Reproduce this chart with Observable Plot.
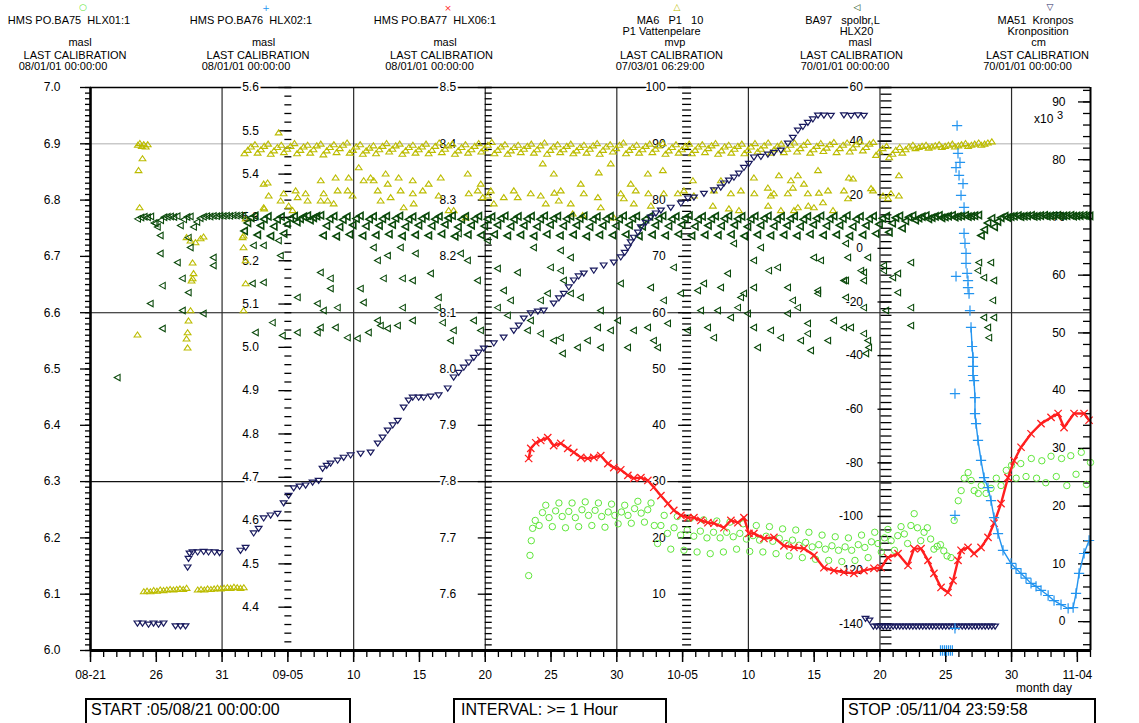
<!DOCTYPE html>
<html><head><meta charset="utf-8">
<script src="https://cdn.jsdelivr.net/npm/d3@7"></script>
<script src="https://cdn.jsdelivr.net/npm/@observablehq/plot@0.6"></script>
<style>
html,body{margin:0;padding:0;background:#fff;}
#wrap{position:relative;width:1139px;height:723px;overflow:hidden;font-family:"Liberation Sans",Arial,Helvetica,sans-serif;color:#000;}
#wrap > svg{position:absolute;left:0;top:0;}
.t{position:absolute;font-size:11px;line-height:12px;white-space:pre;text-align:center;width:200px;}
.m{position:absolute;font-family:"DejaVu Sans",sans-serif;font-size:9px;line-height:10px;width:20px;text-align:center;}
.a{position:absolute;font-size:12px;line-height:12px;white-space:pre;}
.box{position:absolute;top:698px;height:34px;border:2px solid #000;box-sizing:border-box;font-size:16px;line-height:18px;padding:1px 0 0 4px;white-space:pre;background:#fff;}
</style></head>
<body><div id="wrap"></div>
<script>
// ---------------- DATA (times = days since 2005-08-21 00:00) ----------------
const startISO = "2005-08-21T00:00:00Z";
const spanDays = 76;

// axis ranges (native units)
const rangeBA75 = [6.0, 7.0];
const rangeBA76 = [4.3, 5.6];
const rangeBA77 = [7.5, 8.5];
const rangeMA6  = [0, 100];
const rangeBA97 = [-150, 60];
const rangeMA51 = [-5, 92.5];

// tick label values
const ticksBA75 = [6.0,6.1,6.2,6.3,6.4,6.5,6.6,6.7,6.8,6.9,7.0];
const ticksBA76 = [4.4,4.5,4.6,4.7,4.8,4.9,5.0,5.1,5.2,5.3,5.4,5.5,5.6];
const ticksBA77 = [7.6,7.7,7.8,7.9,8.0,8.1,8.2,8.3,8.4,8.5];
const ticksMA6  = [10,20,30,40,50,60,70,80,90,100];
const ticksBA97 = [-140,-120,-100,-80,-60,-40,-20,0,20,40,60];
const ticksMA51 = [0,10,20,30,40,50,60,70,80,90];

const xTickDays = [0,5,10,15,20,25,30,35,40,45,50,55,60,65,70,75];
const xTickLabels = ["08-21","26","31","09-05","10","15","20","25","30","10-05","10","15","20","25","30","11-04"];
const gridDays = [10,20,30,40,50,60,70];
const gridLevels = [6.3, 6.6];
const refLevel = [6.9];

// legend texts
const legendText = [
  ["HMS PO.BA75  HLX01:1", "", "masl", "LAST CALIBRATION", "08/01/01 00:00:00"],
  ["HMS PO.BA76  HLX02:1", "", "masl", "LAST CALIBRATION", "08/01/01 00:00:00"],
  ["HMS PO.BA77  HLX06:1", "", "masl", "LAST CALIBRATION", "08/01/01 00:00:00"],
  ["MA6   P1   10", "P1 Vattenpelare", "mvp", "LAST CALIBRATION", "07/03/01 06:29:00"],
  ["BA97   spolbr,L", "HLX20", "masl", "LAST CALIBRATION", "70/01/01 00:00:00"],
  ["MA51  Kronpos", "Kronposition", "cm", "LAST CALIBRATION", "70/01/01 00:00:00"]
];
const legendSymbols = ["\u25CB", "+", "\u00D7", "\u25B3", "\u25C1", "\u25BD"];
const footerText = ["START :05/08/21 00:00:00", "INTERVAL: >= 1 Hour", "STOP :05/11/04 23:59:58"];

// BA75 (masl) [day, value]
const ba75 = [[33.3,6.133],[33.4,6.169],[33.5,6.195],[33.6,6.217],[33.8,6.231],[34.1,6.222],[34.6,6.258],[35.1,6.220],[35.6,6.262],[36.1,6.218],[36.6,6.262],[37.1,6.220],[37.6,6.264],[38.1,6.222],[38.6,6.262],[39.1,6.219],[39.6,6.260],[40.1,6.225],[40.6,6.258],[41.1,6.226],[41.6,6.265],[42.1,6.228],[42.6,6.262],[43.1,6.190],[43.6,6.240],[44.1,6.180],[44.6,6.238],[45.1,6.178],[45.6,6.235],[46.1,6.175],[46.6,6.232],[47.1,6.172],[47.6,6.230],[48.1,6.175],[48.6,6.228],[49.1,6.180],[49.6,6.225],[50.1,6.176],[50.6,6.222],[51.1,6.175],[51.6,6.220],[52.1,6.172],[52.6,6.216],[53.1,6.168],[53.6,6.214],[54.1,6.165],[54.6,6.210],[55.1,6.162],[55.6,6.205],[56.1,6.160],[56.6,6.202],[57.1,6.158],[57.6,6.200],[58.1,6.160],[58.6,6.205],[59.1,6.165],[59.6,6.210],[60.1,6.175],[60.6,6.215],[61.1,6.178],[61.6,6.220],[62.1,6.190],[62.6,6.243],[63.1,6.195],[63.6,6.218],[64.1,6.180],[64.6,6.188],[65.1,6.168],[65.4,6.165],[65.64,6.231],[65.95,6.266],[66.17,6.284],[66.4,6.306],[66.7,6.316],[66.93,6.302],[67.16,6.284],[67.47,6.279],[67.7,6.293],[68.06,6.279],[68.44,6.288],[68.84,6.306],[69.2,6.293],[69.6,6.320],[70.0,6.329],[70.35,6.306],[70.7,6.332],[71.1,6.309],[71.5,6.341],[71.9,6.306],[72.3,6.337],[72.6,6.298],[73.0,6.345],[73.4,6.309],[73.8,6.341],[74.2,6.293],[74.5,6.346],[74.9,6.313],[75.3,6.352],[75.7,6.295],[76.0,6.334]];
// BA75 circles read on the rising/falling flanks of the daily cycles
const ba75Flank = [[34.35,6.245],[34.85,6.236],[35.35,6.248],[35.85,6.238],[36.35,6.247],[36.85,6.236],[37.35,6.250],[37.85,6.240],[38.35,6.249],[38.85,6.238],[39.35,6.246],[39.85,6.240],[40.35,6.246],[40.85,6.240],[41.35,6.252],[41.85,6.244],[42.35,6.250],[42.85,6.222],[43.35,6.222],[43.85,6.208],[44.35,6.218],[44.85,6.205],[45.35,6.214],[45.85,6.203],[46.35,6.212],[46.85,6.200],[47.35,6.210],[47.85,6.200],[48.35,6.210],[48.85,6.202],[49.35,6.208],[49.85,6.198],[50.35,6.204],[50.85,6.196],[51.35,6.203],[51.85,6.194],[52.35,6.199],[52.85,6.190],[53.35,6.196],[53.85,6.187],[54.35,6.192],[54.85,6.184],[55.35,6.188],[55.85,6.180],[56.35,6.186],[56.85,6.178],[57.35,6.184],[57.85,6.178],[58.35,6.188],[58.85,6.183],[59.35,6.193],[59.85,6.190],[60.35,6.200],[60.85,6.195],[61.35,6.204],[61.85,6.207],[62.35,6.222],[62.85,6.218],[63.35,6.210],[63.85,6.198],[64.35,6.185],[64.85,6.177]];

// BA76 (masl)
const ba76 = [[64.6,4.30],[64.75,4.30],[64.9,4.30],[65.05,4.30],[65.2,4.30],[65.35,4.30],[65.5,4.30],[65.7,4.893],[65.7,4.612],[65.7,4.351],[65.86,5.512],[65.93,5.448],[66.08,5.427],[65.78,5.415],[66.01,5.397],[66.31,5.378],[66.16,5.351],[66.39,5.323],[66.39,5.263],[66.46,5.240],[66.54,5.217],[66.54,5.194],[65.78,5.164],[66.62,5.171],[66.69,5.154],[66.69,5.138],[66.77,5.124],[66.84,5.085],[66.92,5.046],[67.0,5.002],[67.07,4.977],[67.07,4.956],[67.07,4.935],[67.15,4.923],[67.22,4.884],[67.22,4.847],[67.3,4.824],[67.45,4.785],[67.68,4.739],[67.91,4.699],[68.21,4.676],[68.44,4.646],[68.67,4.607],[68.97,4.570],[69.35,4.531],[69.96,4.501],[70.34,4.489],[70.72,4.478],[71.1,4.467],[71.48,4.455],[71.86,4.448],[72.24,4.439],[72.78,4.427],[73.23,4.415],[73.76,4.406],[74.3,4.397],[74.68,4.399],[74.9,4.432],[75.13,4.478],[75.51,4.524],[75.89,4.554]];

// BA77 (masl)
const ba77 = [[33.3,7.841],[33.46,7.859],[33.84,7.869],[34.22,7.873],[34.75,7.878],[35.2,7.864],[35.74,7.868],[36.27,7.859],[36.73,7.852],[37.26,7.843],[37.79,7.841],[38.25,7.843],[38.78,7.846],[39.32,7.832],[39.77,7.825],[40.3,7.821],[40.84,7.811],[41.29,7.806],[41.83,7.807],[42.36,7.802],[42.81,7.790],[43.35,7.775],[43.88,7.761],[44.33,7.749],[44.87,7.740],[45.4,7.736],[45.86,7.736],[46.39,7.731],[46.92,7.727],[47.38,7.726],[48.14,7.718],[48.67,7.731],[49.2,7.727],[49.66,7.736],[50.04,7.708],[50.42,7.708],[51.18,7.699],[51.94,7.701],[52.7,7.686],[53.46,7.683],[54.22,7.681],[54.98,7.669],[55.74,7.647],[56.5,7.642],[57.26,7.639],[58.02,7.637],[58.78,7.642],[59.54,7.646],[60.08,7.647],[60.6,7.665],[61.37,7.672],[62.13,7.651],[62.59,7.681],[63.12,7.681],[63.65,7.660],[64.1,7.637],[64.64,7.612],[65.17,7.603],[65.55,7.624],[65.93,7.660],[66.16,7.678],[66.69,7.683],[67.15,7.672],[67.68,7.683],[68.21,7.701],[68.67,7.726],[69.2,7.761],[69.73,7.807],[70.19,7.837],[70.72,7.861],[71.48,7.885],[72.24,7.903],[73.0,7.914],[73.54,7.921],[73.99,7.896],[74.75,7.921],[75.51,7.921],[75.89,7.909]];

// MA6 (mvp): left cluster, low band and scatter [day, value]
const ma6Points = [[3.6,89.8],[3.75,90.1],[3.9,89.6],[4.05,89.9],[4.2,89.5],[4.35,89.9],
 [4.05,10.5],[4.3,10.6],[4.55,10.5],[4.8,10.7],[5.05,10.6],[5.3,10.8],[5.55,10.7],[5.8,10.8],[6.05,10.9],[6.3,10.8],[6.55,10.9],[6.8,11.0],[7.05,10.9],[7.3,11.1],
 [8.15,10.8],[8.4,10.9],[8.65,10.8],[8.9,11.0],[9.15,10.9],[9.4,11.0],[9.65,11.1],[9.9,11.0],[10.15,11.1],[10.4,11.2],[10.65,11.1],[10.9,11.3],[11.15,11.2],[11.4,11.1],[11.65,11.2],
 [3.95,87.4],[3.65,85.3],[3.73,78.7],[3.57,56.1],[7.6,72.8],[7.98,72.5],[8.37,73.2],[8.59,73.5],[7.3,73.4],[7.76,68.9],[7.83,67.0],[7.76,66.1],[7.68,65.7],[7.6,60.4],[7.45,58.6],[7.38,56.5],[7.3,55.4],[7.38,53.8],
 [11.56,73.4],[11.63,71.6],[11.79,69.3],[11.79,65.2],[11.63,60.4],[11.79,76.7],[11.63,73.7],
 [14.3,92.0],[13.16,82.9],[13.54,80.8],[13.16,78.7],[13.46,83.1],[13.2,78.5],[14.45,79.9],[14.68,81.2],[15.06,79.0],[15.36,78.2],[15.59,81.7],[15.74,80.5],[16.35,81.2],[16.5,79.9],[17.49,79.9],[17.5,83.5],[17.72,81.2],[18.02,79.9],[18.63,84.0],[18.78,81.7],[18.48,79.4],[19.54,81.7],[19.92,80.8],[19.62,84.0],[20.38,85.8],[20.76,83.5],[21.29,84.0],[21.52,83.5],[21.83,81.7],[22.05,79.9],[22.43,84.7],[22.59,82.9],[22.81,80.5],[23.42,84.0],[23.57,81.7],[23.8,78.7],[24.49,83.5],[24.5,81.2],[24.56,79.4],[25.25,81.7],[25.7,82.9],[26.62,84.0],[26.46,80.8],[27.22,78.2],[27.6,78.2],[28.52,76.9],[28.67,84.7],[28.75,81.2],[29.43,81.7],[29.66,82.9],[29.81,80.5],[30.19,80.8],[30.42,81.7],[30.65,79.4],[31.41,80.5],[32.17,81.7],[32.47,80.5],
 [34.37,86.5],[35.21,84.7],[33.46,81.2],[34.22,80.8],[34.6,79.4],[35.25,81.3],[35.74,81.7],[35.59,79.9],[36.5,79.4],[36.65,77.6],[37.41,77.3],[37.26,82.9],[37.49,81.2],[38.63,84.9],[38.56,80.5],[38.78,78.7],[39.54,86.5],[39.77,76.9],[40.3,81.2],[40.53,80.3],[41.06,82.9],[41.44,81.7],[41.29,79.4],[42.36,84.7],[42.4,81.2],[42.59,79.0],[43.5,85.3],[43.57,81.2],[44.64,81.2],[45.1,81.7],[45.78,83.5],[45.86,80.8],[47.3,79.0],[47.38,81.7],[47.91,83.5],[48.67,81.2],[48.52,78.5],[49.28,78.2],[49.43,81.7],[50.42,84.0],[50.45,81.2],[51.48,82.2],[51.5,79.0],[51.94,81.2],[53.0,81.2],[53.23,83.5],[53.46,78.2],[54.52,81.2],[54.98,78.7],[54.22,82.9],[51.71,80.8],[52.32,84.4],[53.38,82.2],[53.76,84.4],[54.55,79.0],[55.29,85.3],[55.36,81.3],[55.67,79.6],[56.05,81.7],[56.43,78.2],[57.26,81.7],[57.57,80.3],[57.95,83.8],[57.64,84.0],[59.47,81.7],[60.23,80.8],[60.61,80.3],[60.84,81.2],[61.44,84.4],[61.44,80.8],[59.32,82.1],[53.76,78.7],[52.47,78.2]];

// daily sample offsets of the dense pumping cycles (fraction of day after row day)
const cyclePhase = [0.7, 0.95, 1.2, 1.5];
// MA6 upper band: [day, v@phase0..3]
const ma6Band = [[11,88.3,88.9,89.5,89.9],[12,88.4,89.0,89.6,90.0],[13,88.2,88.8,89.4,89.8],[14,88.5,89.1,89.6,90.1],[15,88.3,88.9,89.5,89.8],[16,88.4,89.0,89.7,90.0],[17,88.1,88.8,89.4,89.9],[18,88.5,89.2,89.8,90.2],[19,88.4,88.9,89.5,89.9],[20,88.2,88.8,89.3,89.7],[21,88.3,89.0,89.6,90.1],[22,88.6,89.1,89.7,90.0],[23,88.2,88.8,89.4,89.8],[24,88.4,89.0,89.5,90.0],[25,88.3,88.9,89.6,90.2],[26,88.5,89.1,89.7,90.0],[27,88.2,88.8,89.4,89.9],[28,88.4,89.0,89.6,90.1],[29,88.6,89.2,89.8,90.3],[30,88.3,88.9,89.5,89.9],[31,88.2,88.8,89.4,89.8],[32,88.5,89.1,89.6,90.0],[33,88.4,89.0,89.7,90.2],[34,88.2,88.9,89.5,89.9],[35,88.5,89.0,89.6,90.0],[36,88.3,88.8,89.4,89.8],[37,88.4,89.1,89.7,90.1],[38,88.2,88.9,89.5,89.9],[39,88.6,89.2,89.8,90.2],[40,88.3,88.9,89.4,89.8],[41,88.4,89.0,89.6,90.0],[42,88.5,89.1,89.7,90.1],[43,88.2,88.8,89.4,89.9],[44,88.4,89.0,89.6,90.0],[45,88.3,88.9,89.5,89.9],[46,88.5,89.2,89.7,90.1],[47,88.2,88.8,89.5,89.8],[48,88.4,89.1,89.6,90.0],[49,88.3,88.9,89.5,90.1],[50,88.6,89.1,89.7,90.2],[51,88.4,89.0,89.6,90.0],[52,88.5,89.1,89.8,90.2],[53,88.6,89.2,89.8,90.3],[54,88.4,89.0,89.6,90.1],[55,88.7,89.3,89.9,90.3],[56,88.5,89.2,89.8,90.2],[57,88.6,89.3,89.9,90.4],[58,88.8,89.4,90.0,90.3],[59,88.0,88.6,89.2,89.6],[60,87.6,88.2,88.9,89.4],[61,88.4,89.0,89.5,89.8],[62,89.2,89.4,89.6,89.8],[63,89.3,89.5,89.7,89.9],[64,89.4,89.6,89.8,90.0],[65,89.5,89.7,89.9,90.1],[66,89.6,89.8,90.0,90.2],[67,89.8,90.0,90.2,90.4]];

// BA97 (masl): flat start and scatter [day, value]
const ba97Points = [[3.6,11.0],[3.85,11.5],[4.1,11.8],[4.35,11.6],[4.6,11.9],[4.85,9.5],[5.1,8.0],[5.35,10.5],[5.6,11.6],[5.85,11.8],[6.1,11.9],[6.35,11.7],[6.6,12.0],[6.85,8.5],[7.1,10.8],[7.35,11.7],[7.6,11.9],[7.85,8.0],[8.1,9.8],[8.35,11.2],[8.6,11.8],[8.85,12.0],[9.1,11.9],[9.35,12.1],[9.6,12.0],[9.85,12.2],[10.1,12.1],[10.35,12.2],[10.6,12.1],[10.85,12.3],[11.1,12.2],[11.35,12.3],[11.6,12.2],
 [2.05,-48.2],[4.94,9.3],[5.32,4.8],[5.32,-1.9],[6.62,-5.3],[5.48,-13.9],[4.56,-20.6],[5.48,-29.9],[7.0,-11.2],[7.0,-23.2],[7.45,-16.5],[8.59,-24.3],[9.35,-3.4],[9.35,-6.4],[7.6,0.3],[7.45,4.0],
 [12.4,1.1],[13.16,1.1],[12.32,-13.1],[13.16,-12.7],[14.3,2.9],[14.45,-2.7],[15.74,-18.3],[17.26,-20.6],[17.49,-9.0],[18.25,-11.2],[18.25,-15.0],[17.72,-23.2],[18.63,-29.5],[19.54,-33.3],[18.78,-22.1],[17.49,-29.5],[17.26,-31.4],[13.84,-27.7],[14.6,-32.5],[15.74,-31.4],[12.55,-31.4],
 [20.53,-15.0],[20.76,-20.2],[21.14,-31.4],[20.3,-33.6],[21.52,0.3],[21.83,-4.5],[22.28,-11.2],[22.59,-2.7],[23.57,0.3],[23.73,-11.2],[23.73,-22.1],[21.83,-26.9],[22.05,-28.8],[22.59,-29.9],[23.35,-28.8],[24.49,-26.9],[24.49,-12.0],[24.71,-1.9],[25.86,-9.4],[26.46,-18.3],[26.39,-22.1],[26.77,-27.7],[27.38,-34.4],[27.6,-30.6],[27.98,5.5],[28.14,-1.9],[28.67,-4.5],[29.43,-12.0],[29.13,-26.9],[29.66,-30.6],
 [30.19,2.9],[30.95,-7.5],[31.41,-15.7],[30.95,-22.1],[31.71,-25.0],[31.94,-19.4],[32.47,-9.0],[33.69,0.3],[34.98,-7.1],[35.74,-0.8],[35.74,-8.3],[36.5,-3.4],[35.97,-12.0],[36.5,-16.8],[37.26,-18.3],[34.75,-16.8],[34.22,-19.4],[33.46,-26.9],[33.23,-30.6],[34.22,-31.8],[35.21,-34.4],[35.74,-33.3],[35.89,-39.2],[37.03,-37.0],[37.79,-34.4],[38.56,-29.5],[38.78,-23.2],[39.54,-30.6],[38.78,-37.0],
 [40.08,-26.9],[40.3,-13.1],[40.84,-37.0],[41.29,-30.6],[42.59,-14.6],[42.36,-29.5],[42.81,-34.4],[43.12,-37.0],[43.57,-19.4],[43.88,-28.0],[44.33,-7.1],[44.87,-16.8],[45.4,-30.6],[46.16,-15.7],[46.39,-23.2],[46.92,-29.5],[47.38,-33.3],[47.68,-23.2],[48.44,-9.4],[48.9,1.8],[49.43,-18.3],[49.96,-24.3],[50.42,-14.6],[50.42,-29.5],[50.95,0.3],[51.56,-8.3],[51.71,-30.6],[52.47,-33.3],[53.0,-14.6],[53.76,-22.1],[53.99,-34.4],[54.52,-28.0],[54.75,-38.1],[54.98,-3.4],[55.29,-16.8],
 [46.62,-13.1],[47.91,-14.6],[49.2,-22.1],[49.66,-16.8],[48.67,-25.8],[50.42,-4.5],[50.72,-37.0],[52.24,-7.1],[53.0,-24.3],[53.38,-19.4],[54.52,-31.8],[55.29,-15.7],[55.51,-4.5],[56.5,-26.9],[57.26,-12.0],[57.57,-3.4],[57.79,-29.5],[58.56,-8.3],[58.78,-12.0],[59.09,-34.4],[59.16,-37.0],[58.94,-39.2],[57.41,1.8],[59.09,-3.4],[58.78,-9.0],[57.41,-12.0],[57.41,-18.3],[58.78,-22.1],[57.26,-29.5],[58.78,-31.8],[56.05,-34.4],
 [60.3,-8.3],[60.3,-6.4],[61.37,-9.4],[62.36,-5.3],[61.37,-16.5],[62.36,-22.1],[62.36,-28.8],[60.46,-23.2],[60.99,-10.9],
 [67.53,-5.3],[67.45,-8.3],[67.91,-10.9],[68.44,-5.3],[68.67,-12.0],[68.59,-19.4],[67.91,-25.8],[68.21,-29.5],[68.29,-33.3],[68.67,-25.8]];

// BA97 daily cycle band: [day, v@phase0..3]
const ba97Band = [[11,6.5,9.5,11.4,12.1],[12,5.0,8.5,10.9,11.9],[13,4.6,8.2,10.8,11.8],[14,5.5,9.0,11.2,12.0],[15,9.8,11.0,11.8,12.2],[16,10.5,11.4,12.0,12.3],[17,4.8,8.4,11.0,12.0],[18,4.5,8.0,10.7,11.8],[19,5.2,8.7,11.1,12.1],[20,4.7,8.3,10.9,11.9],[21,4.9,8.5,11.0,12.0],[22,5.3,8.8,11.2,12.1],[23,4.6,8.1,10.8,11.8],[24,5.0,8.6,11.1,12.0],[25,4.8,8.4,10.9,11.9],[26,5.4,8.9,11.3,12.2],[27,4.5,8.0,10.8,11.9],[28,5.1,8.6,11.0,12.0],[29,4.9,8.3,10.9,11.8],[30,5.2,8.7,11.2,12.1],[31,4.7,8.2,10.8,11.9],[32,5.0,8.5,11.0,12.0],[33,4.6,8.1,10.9,12.1],[34,5.3,8.8,11.2,12.0],[35,4.8,8.4,11.0,11.9],[36,5.1,8.6,11.1,12.1],[37,4.5,8.0,10.8,11.8],[38,5.0,8.5,11.0,12.0],[39,4.9,8.4,10.9,12.1],[40,5.2,8.7,11.2,12.0],[41,4.6,8.2,10.9,11.9],[42,5.1,8.6,11.1,12.1],[43,4.8,8.3,10.9,11.9],[44,5.3,8.8,11.2,12.2],[45,4.7,8.2,10.8,11.9],[46,5.0,8.5,11.0,12.0],[47,4.9,8.4,11.1,12.1],[48,5.2,8.7,11.0,11.9],[49,4.6,8.1,10.9,12.0],[50,5.1,8.6,11.2,12.1],[51,4.8,8.3,10.9,11.9],[52,5.0,8.5,11.1,12.0],[53,4.7,8.2,10.8,11.9],[54,5.3,8.8,11.2,12.1],[55,4.9,8.4,11.0,12.0],[56,5.1,8.6,11.1,12.2],[57,4.6,8.1,10.9,11.9],[58,5.0,8.5,11.0,12.0],[59,5.5,9.0,11.2,12.0],[60,6.0,9.4,11.4,12.1],[61,7.5,10.2,11.6,12.2],[62,10.5,11.3,11.8,12.2],[63,11.0,11.5,11.9,12.3],[64,11.4,11.7,12.0,12.3],[65,11.6,11.9,12.1,12.3],[66,11.8,12.0,12.2,12.4],[67,4.8,7.0,9.5,11.2],[68,8.0,10.0,11.4,12.0],[69,11.5,11.8,12.0,12.2],[70,11.8,12.0,12.1,12.3],[71,11.9,12.0,12.2,12.3],[72,12.0,12.1,12.2,12.3],[73,12.0,12.1,12.2,12.3],[74,12.0,12.1,12.2,12.3],[75,12.1,12.1,12.2,12.3]];

// MA51 (x10^3 cm)
const ma51 = [[3.57,-0.3],[3.95,-0.3],[4.41,-0.5],[4.79,-0.3],[5.17,-0.5],[5.55,-0.3],[6.46,-0.8],[6.84,-0.8],[7.22,-0.8],
 [7.38,9.4],[7.45,10.9],[7.53,11.8],[7.76,12.0],[8.14,12.0],[8.6,12.1],[8.97,12.0],[9.43,12.0],[9.81,11.9],
 [11.4,12.3],[11.79,12.8],[12.4,15.3],[12.78,16.1],[13.16,17.9],[13.69,18.4],[14.22,18.7],[14.68,20.5],[15.06,21.8],[15.44,23.1],[15.89,23.4],[16.35,23.6],[16.88,24.1],[17.34,24.4],[17.64,26.5],[17.95,27.0],[18.25,27.4],[18.78,27.9],[19.24,28.4],[19.77,28.8],[20.53,29.1],[21.29,29.3],[21.83,30.85],[22.2,31.9],[22.59,33.1],[22.97,34.0],[23.35,34.8],[23.8,37.1],[24.18,38.3],[24.49,38.8],[24.94,38.8],[25.32,38.8],[25.86,39.0],[26.46,39.2],[27.15,40.4],[27.6,42.3],[27.98,43.1],[28.37,44.0],[28.75,44.9],[29.13,45.7],[29.5,46.6],[29.89,47.3],[30.65,48.2],[31.4,49.2],[32.17,50.4],[32.55,51.3],[32.93,52.5],[33.46,53.4],[34.0,53.7],[34.45,53.9],[35.2,55.1],[35.6,56.0],[35.97,56.8],[36.35,57.9],[36.73,59.1],[37.1,59.8],[37.49,60.3],[38.25,60.8],[39.0,61.7],[39.77,62.2],[40.3,63.1],[40.6,63.9],[40.84,64.8],[41.06,65.7],[41.29,66.5],[41.6,67.4],[41.83,68.3],[42.2,69.1],[42.59,70.0],[42.97,70.7],[43.35,71.2],[44.1,71.7],[44.87,72.4],[45.4,73.3],[45.86,73.45],[46.62,74.1],[47.38,74.7],[47.9,75.2],[48.14,75.9],[48.52,76.4],[48.9,76.9],[49.28,77.6],[49.66,78.6],[50.04,79.3],[50.42,80.4],[50.95,80.5],[51.48,80.9],[51.94,81.2],[52.47,81.6],[53.0,82.8],[53.38,83.8],[53.76,85.05],[54.14,85.7],[54.52,86.4],[54.9,87.0],[55.29,87.65],[55.74,87.65],[56.27,87.6],[57.26,87.7],[57.8,87.6],[58.33,87.7],[58.78,87.6],
 [58.9,0.5],[59.2,0.2],[59.5,-0.84],[59.75,-0.84],[60.0,-0.84],[60.25,-0.84],[60.5,-0.84],[60.75,-0.84],[61.0,-0.84],[61.25,-0.84],[61.5,-0.84],[61.75,-0.84],[62.0,-0.84],[62.25,-0.84],[62.5,-0.84],[62.75,-0.84],[63.0,-0.84],[63.25,-0.84],[63.5,-0.84],[63.75,-0.84],[64.0,-0.84],[64.25,-0.84],[64.5,-0.84],[64.75,-0.84],[65.0,-0.84],[65.25,-0.84],[65.5,-0.84],[65.75,-0.84],[66.0,-0.84],[66.25,-0.84],[66.5,-0.84],[66.75,-0.84],[67.0,-0.84],[67.25,-0.84],[67.5,-0.84],[67.75,-0.84],[68.0,-0.84],[68.25,-0.84],[68.5,-0.84],[68.75,-0.84]];

// ---------------- helpers ----------------
const day0 = new Date(startISO).getTime();
const toDate = d => new Date(day0 + d * 864e5);
const lin = ([lo, hi]) => v => 6 + (v - lo) / (hi - lo);
const pts = (pairs, range) => pairs.map(([t, v]) => ({t: toDate(t), y: lin(range)(v), d: t}));
const cycles = (rows, range) => rows.flatMap(([d, ...vals]) => vals.map((v, i) => ({t: toDate(d + cyclePhase[i]), y: lin(range)(v), d: d + cyclePhase[i]}))).filter(p => p.d <= spanDays + 0.05);

const C = {ba75: "#5fe63a", ba76: "#2394ef", ba77: "#ff1f1f", ma6: "#bcbc00", ba97: "#0b4a0b", ma51: "#191a5e"};

const triLeft = {draw(c, s) { const r = Math.sqrt(s / Math.PI) * 1.25; c.moveTo(-r, 0); c.lineTo(r * 0.8, -r); c.lineTo(r * 0.8, r); c.closePath(); }};
const triDown = {draw(c, s) { const r = Math.sqrt(s / Math.PI) * 1.25; c.moveTo(0, r * 0.8); c.lineTo(-r, -r * 0.7); c.lineTo(r, -r * 0.7); c.closePath(); }};
const triUp   = {draw(c, s) { const r = Math.sqrt(s / Math.PI) * 1.25; c.moveTo(0, -r * 0.8); c.lineTo(-r, r * 0.7); c.lineTo(r, r * 0.7); c.closePath(); }};

const axes = [
  {day: 0,  range: rangeBA75, ticks: ticksBA75, step: 0.01, fmt: v => v.toFixed(1), dx: -30, maj: [-10, 1], min: [-5, 1], halo: false},
  {day: 15, range: rangeBA76, ticks: ticksBA76, step: 0.02, fmt: v => v.toFixed(1), dx: -29, maj: [-9, 4], min: [-3, 4], halo: true},
  {day: 30, range: rangeBA77, ticks: ticksBA77, step: 0.01, fmt: v => v.toFixed(1), dx: -29, maj: [-7, 7], min: [0, 7], halo: true},
  {day: 45, range: rangeMA6,  ticks: ticksMA6,  step: 1,    fmt: v => String(v),   dx: -17, maj: [-4, 9], min: [0, 9], halo: true},
  {day: 60, range: rangeBA97, ticks: ticksBA97, step: 2.5,  fmt: v => String(v),   dx: -17, maj: [-2, 12], min: [1, 12], halo: true},
  {day: 76, range: rangeMA51, ticks: ticksMA51, step: 2,    fmt: v => String(v),   dx: -25, maj: [-12, 0], min: [-7, 0], halo: true}
];

const tickMarks = axes.flatMap(a => {
  const f = lin(a.range), D = toDate(a.day);
  const n0 = Math.ceil(a.range[0] / a.step - 1e-6), n1 = Math.floor(a.range[1] / a.step + 1e-6);
  const minor = d3.range(n0, n1 + 1).map(i => i * a.step);
  return [
    Plot.ruleY(minor, {y: v => f(v), x1: () => D, x2: () => D, insetLeft: a.min[0], insetRight: -a.min[1], stroke: "#000", strokeWidth: 1.3}),
    Plot.ruleY(a.ticks, {y: v => f(v), x1: () => D, x2: () => D, insetLeft: a.maj[0], insetRight: -a.maj[1], stroke: "#000", strokeWidth: 1.3})
  ];
});
const labelMarks = axes.map(a => Plot.text(a.ticks, Object.assign({
  x: () => toDate(a.day), y: v => lin(a.range)(v), text: a.fmt, textAnchor: "end", dx: a.dx,
  fontSize: 12, fill: "#000"
}, a.halo ? {stroke: "#fff", strokeWidth: 4, paintOrder: "stroke", strokeLinejoin: "round"} : {})));

const ma6All = pts(ma6Points, rangeMA6).concat(cycles(ma6Band, rangeMA6));
const ba97Scatter = pts(ba97Points, rangeBA97);
const ba97Cyc = cycles(ba97Band, rangeBA97);
const ba75All = pts(ba75, rangeBA75).concat(pts(ba75Flank, rangeBA75));
const ba76Pts = pts(ba76, rangeBA76);
const ba76Curve = ba76Pts.filter(p => p.d >= 66.9).sort((a, b) => a.d - b.d);

const chart = Plot.plot({
  width: 1139, height: 723,
  marginTop: 87, marginBottom: 73, marginLeft: 90, marginRight: 49,
  x: {type: "utc", domain: [toDate(0), toDate(spanDays)], axis: null},
  y: {domain: [6, 7], axis: null},
  style: {fontFamily: "'Liberation Sans', Arial, sans-serif", fontSize: "12px", background: "transparent", overflow: "visible"},
  marks: [
    Plot.ruleY(refLevel, {stroke: "#c9c9c9", strokeWidth: 1.6}),
    Plot.ruleY(gridLevels, {stroke: "#111", strokeWidth: 1.1}),
    Plot.ruleX(gridDays, {x: d => toDate(d), stroke: "#2a2a2a", strokeWidth: 1.2}),
    Plot.ruleY([7], {stroke: "#000", strokeWidth: 1.6}),
    ...tickMarks,
    Plot.ruleX(d3.range(0, spanDays + 1), {x: d => toDate(d), y1: 6, y2: 6, insetBottom: -7, stroke: "#000", strokeWidth: 1.3}),
    Plot.ruleX(xTickDays, {x: d => toDate(d), y1: 6, y2: 6, insetBottom: -12, stroke: "#000", strokeWidth: 1.5}),
    Plot.text(xTickDays, {x: d => toDate(d), y: 6, dy: 25, text: (d, i) => xTickLabels[i], fontSize: 12, fill: "#000"}),
    ...labelMarks,
    Plot.dot(ma6All, {x: "t", y: "y", symbol: triUp, r: 2.7, stroke: C.ma6, fill: "none", strokeWidth: 1.1}),
    Plot.dot(ba97Scatter, {x: "t", y: "y", symbol: triLeft, r: 2.6, stroke: C.ba97, fill: "none", strokeWidth: 1.1}),
    Plot.dot(ba97Cyc, {x: "t", y: "y", symbol: triLeft, r: 2.8, stroke: C.ba97, fill: "none", strokeWidth: 1.6}),
    Plot.dot(pts(ma51, rangeMA51), {x: "t", y: "y", symbol: triDown, r: 2.7, stroke: C.ma51, fill: "none", strokeWidth: 1.2}),
    Plot.dot(ba75All, {x: "t", y: "y", symbol: "circle", r: 3.2, stroke: C.ba75, fill: "none", strokeWidth: 1}),
    Plot.line(pts(ba77, rangeBA77), {x: "t", y: "y", stroke: C.ba77, strokeWidth: 2.4}),
    Plot.dot(pts(ba77, rangeBA77), {x: "t", y: "y", symbol: "times", r: 3.4, stroke: C.ba77, strokeWidth: 1.3}),
    Plot.line(ba76Curve, {x: "t", y: "y", stroke: C.ba76, strokeWidth: 1.4}),
    Plot.dot(ba76Pts, {x: "t", y: "y", symbol: "plus", r: 3.4, stroke: C.ba76, strokeWidth: 1.2}),
    Plot.ruleY([6], {stroke: "#000", strokeWidth: 3}),
    Plot.ruleX([toDate(0)], {stroke: "#000", strokeWidth: 2.6}),
    Plot.ruleX([toDate(spanDays)], {stroke: "#000", strokeWidth: 2})
  ]
});

const wrap = document.getElementById("wrap");
wrap.appendChild(chart);

// header legend
const legendCenters = [[69, 0, 80, 75, 63], [251, 0, 263.5, 258, 246], [435, 0, 445, 441.5, 429.5], [670, 661.5, 675, 671.5, 660], [842.5, 856.5, 860, 851.5, 845], [1035.5, 1038, 1038.5, 1037.5, 1027.5]];
const lineY = [20, 31, 42, 55, 66];
const symPos = [[83, 7], [266, 8], [448, 8], [677, 7], [857, 7], [1050, 7]];
const symColors = [C.ba75, C.ba76, C.ba77, C.ma6, C.ba97, C.ma51];
legendText.forEach((lines, g) => {
  lines.forEach((s, i) => {
    if (!s) return;
    const el = document.createElement("div");
    el.className = "t"; el.textContent = s;
    el.style.left = (legendCenters[g][i] - 100) + "px";
    el.style.top = (lineY[i] - 6) + "px";
    wrap.appendChild(el);
  });
  const m = document.createElement("div");
  m.className = "m"; m.textContent = legendSymbols[g];
  m.style.color = symColors[g];
  m.style.left = (symPos[g][0] - 10) + "px"; m.style.top = (symPos[g][1] - 5) + "px";
  wrap.appendChild(m);
});

function addText(cls, text, left, top, extra) {
  const el = document.createElement("div");
  el.className = cls; el.textContent = text;
  el.style.left = left + "px"; el.style.top = top + "px";
  if (extra) Object.assign(el.style, extra);
  wrap.appendChild(el);
}
addText("a", "x10", 1034, 113);
addText("a", "3", 1057, 110, {fontSize: "11px", lineHeight: "11px"});
addText("a", "month day", 1016, 682);
addText("box", footerText[0], 85, 698, {width: "266px"});
addText("box", footerText[1], 453, 698, {width: "214px", paddingLeft: "6px"});
addText("box", footerText[2], 842, 698, {width: "254px"});
</script></body></html>
